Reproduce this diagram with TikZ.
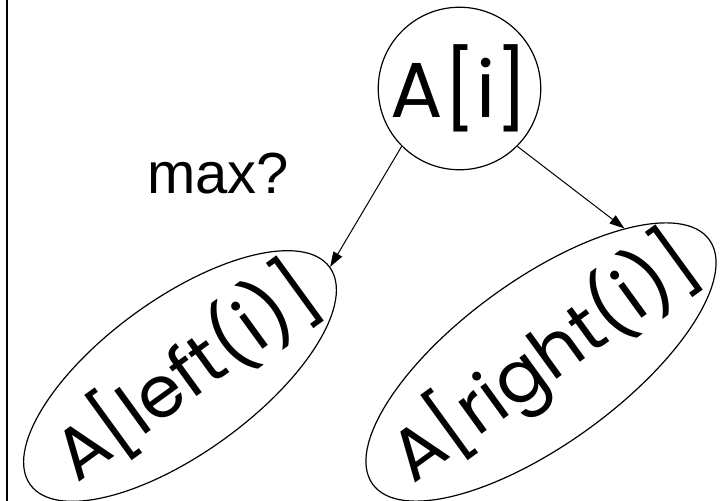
\documentclass[tikz,border=0pt]{standalone}
\usepackage{fontspec}
\setmainfont{Poppins}
\newfontfamily\notefont{Liberation Sans}
\usetikzlibrary{shapes.geometric,arrows.meta}
\tikzset{
  elem/.style={draw, line width=1.2pt, inner sep=0pt, font=\fontsize{78}{78}\selectfont},
  subtree/.style={elem, ellipse, rotate=36, font=\fontsize{72}{72}\selectfont},
  arr/.style={-{Triangle[length=15pt,width=10pt]}, line width=1pt},
}
\begin{document}
\begin{tikzpicture}[x=1pt,y=-1pt]
	\useasboundingbox (0,0) rectangle (724,501);
	\draw[line width=1.6pt] (7,0) -- (7,501);

	\node[elem, circle, minimum size=161pt] (top) at (459.5,88.5) {A[i]};

	\node[subtree, minimum width=370pt, minimum height=154pt] (lft) at (180,376) {\makebox[0pt]{\hspace{12pt}A[left(i)]}};
	\node[subtree, minimum width=416pt, minimum height=164pt] (rgt) at (541,362) {\makebox[0pt]{\hspace{8pt}A[right(i)]}};

	\node[font=\notefont\fontsize{58}{58}\selectfont] (q) at (218,174) {max?};

	\draw[arr] (top.225) -- (lft.east);
	\draw[arr] (top.315) -- (rgt.22);
\end{tikzpicture}
\end{document}
